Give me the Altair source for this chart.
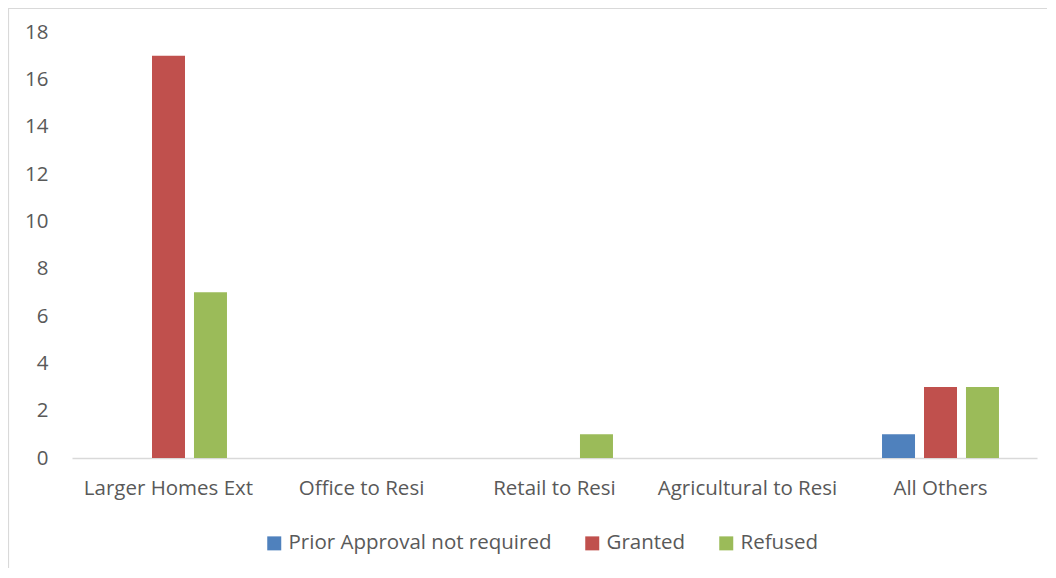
import altair as alt
import pandas as pd

categories = ["Larger Homes Ext", "Office to Resi", "Retail to Resi", "Agricultural to Resi", "All Others"]
series = ["Prior Approval not required", "Granted", "Refused"]
prior = [0, 0, 0, 0, 1]
granted = [17, 0, 0, 0, 3]
refused = [7, 0, 1, 0, 3]
colors = ["#4F81BD", "#C0504D", "#9BBB59"]
y_ticks = [0, 2, 4, 6, 8, 10, 12, 14, 16, 18]

rows = []
for i, c in enumerate(categories):
    for s, vals in zip(series, [prior, granted, refused]):
        rows.append({"category": c, "series": s, "value": vals[i]})
df = pd.DataFrame(rows)

FONT = "Open Sans"
TXT = "#595959"
FS = 20.5

bars = alt.Chart(df).mark_bar().encode(
    x=alt.X("category:N", sort=categories, title=None,
            scale=alt.Scale(paddingInner=0.394, paddingOuter=0.197),
            axis=alt.Axis(labelAngle=0, labelFontSize=FS, labelColor=TXT, labelFont=FONT,
                          labelPadding=20, ticks=False, domainColor="#d9d9d9", domainWidth=1.5,
                          labelLimit=400)),
    xOffset=alt.XOffset("series:N", sort=series,
                        scale=alt.Scale(paddingInner=0.214, paddingOuter=0)),
    y=alt.Y("value:Q", title=None,
            scale=alt.Scale(domain=[0, 18], nice=False),
            axis=alt.Axis(values=y_ticks, grid=False, domain=False, ticks=False,
                          labelFontSize=FS, labelColor=TXT, labelFont=FONT, labelPadding=24)),
    color=alt.Color("series:N", sort=series,
                    scale=alt.Scale(domain=series, range=colors),
                    legend=alt.Legend(title=None, orient="none", direction="horizontal",
                                      legendX=192, legendY=501,
                                      symbolType="square", symbolSize=196, symbolStrokeWidth=0,
                                      labelFontSize=FS, labelColor=TXT, labelFont=FONT,
                                      labelOffset=4, columnPadding=30, labelLimit=400)),
)

border = alt.Chart(alt.Data(values=[{}])).mark_rect(
    fill=None, stroke="#d9d9d9", strokeWidth=1.2
).encode(
    x=alt.value(-63.5), x2=alt.value(1100), y=alt.value(-23.5), y2=alt.value(700)
)

chart = alt.layer(border, bars).properties(
    width=965, height=426,
    autosize=alt.AutoSizeParams(type="none"),
    padding={"left": 64, "top": 24, "right": 10, "bottom": 110},
).configure_view(stroke=None)

chart.save("out.html", embed_options={"renderer": "svg", "actions": False})
